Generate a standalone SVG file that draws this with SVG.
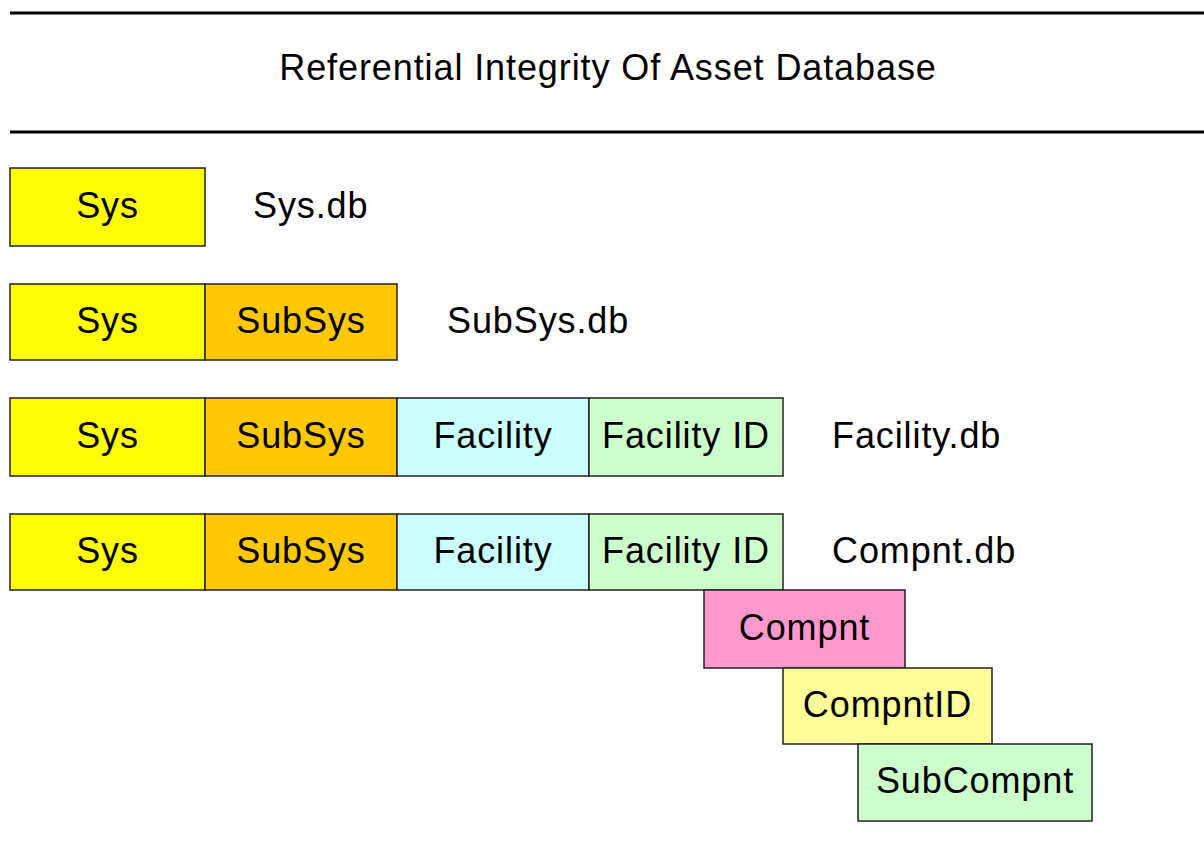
<svg xmlns="http://www.w3.org/2000/svg" width="1204" height="852" viewBox="0 0 1204 852">
  <style>
    text { font-family: "Liberation Sans", Arial, sans-serif; font-size: 36px; letter-spacing: 0.9px; fill: #000; }
    .c { text-anchor: middle; }
    .cell { stroke: #222; stroke-width: 1.5; }
    .rule { stroke: #000; stroke-width: 3; }
    .sys { fill: #FFFF00; }
    .sub { fill: #FFC800; }
    .fac { fill: #CCFFFF; }
    .fid { fill: #CCFFCC; }
    .cmp { fill: #FF99CC; }
    .cid { fill: #FFFF99; }
  </style>
  <rect width="1204" height="852" fill="#fff"/>

  <!-- title band -->
  <g id="title">
    <line class="rule" x1="10" y1="13" x2="1204" y2="13"/>
    <text class="c" x="608" y="80">Referential Integrity Of Asset Database</text>
    <line class="rule" x1="10" y1="132" x2="1204" y2="132"/>
  </g>

  <!-- Sys.db -->
  <g id="sys-db">
    <rect class="cell sys" x="10" y="168" width="195" height="78"/>
    <text class="c" x="107.5" y="218">Sys</text>
    <text x="253" y="218">Sys.db</text>
  </g>

  <!-- SubSys.db -->
  <g id="subsys-db">
    <rect class="cell sys" x="10" y="284" width="195" height="76"/>
    <rect class="cell sub" x="205" y="284" width="192" height="76"/>
    <text class="c" x="107.5" y="333">Sys</text>
    <text class="c" x="301" y="333">SubSys</text>
    <text x="447" y="333">SubSys.db</text>
  </g>

  <!-- Facility.db -->
  <g id="facility-db">
    <rect class="cell sys" x="10" y="398" width="195" height="78"/>
    <rect class="cell sub" x="205" y="398" width="192" height="78"/>
    <rect class="cell fac" x="397" y="398" width="192" height="78"/>
    <rect class="cell fid" x="589" y="398" width="194" height="78"/>
    <text class="c" x="107.5" y="448">Sys</text>
    <text class="c" x="301" y="448">SubSys</text>
    <text class="c" x="493" y="448">Facility</text>
    <text class="c" x="686" y="448">Facility ID</text>
    <text x="832" y="448">Facility.db</text>
  </g>

  <!-- Compnt.db -->
  <g id="compnt-db">
    <rect class="cell sys" x="10" y="514" width="195" height="76"/>
    <rect class="cell sub" x="205" y="514" width="192" height="76"/>
    <rect class="cell fac" x="397" y="514" width="192" height="76"/>
    <rect class="cell fid" x="589" y="514" width="194" height="76"/>
    <text class="c" x="107.5" y="563">Sys</text>
    <text class="c" x="301" y="563">SubSys</text>
    <text class="c" x="493" y="563">Facility</text>
    <text class="c" x="686" y="563">Facility ID</text>
    <text x="832" y="563">Compnt.db</text>
  </g>

  <g id="compnt">
    <rect class="cell cmp" x="704" y="590" width="201" height="78"/>
    <text class="c" x="804.5" y="640">Compnt</text>
  </g>

  <g id="compnt-id">
    <rect class="cell cid" x="783" y="668" width="209" height="76"/>
    <text class="c" x="887.5" y="717">CompntID</text>
  </g>

  <g id="subcompnt">
    <rect class="cell fid" x="858" y="744" width="234" height="77"/>
    <text class="c" x="975" y="793">SubCompnt</text>
  </g>

  <g id="connectors"/>
</svg>
